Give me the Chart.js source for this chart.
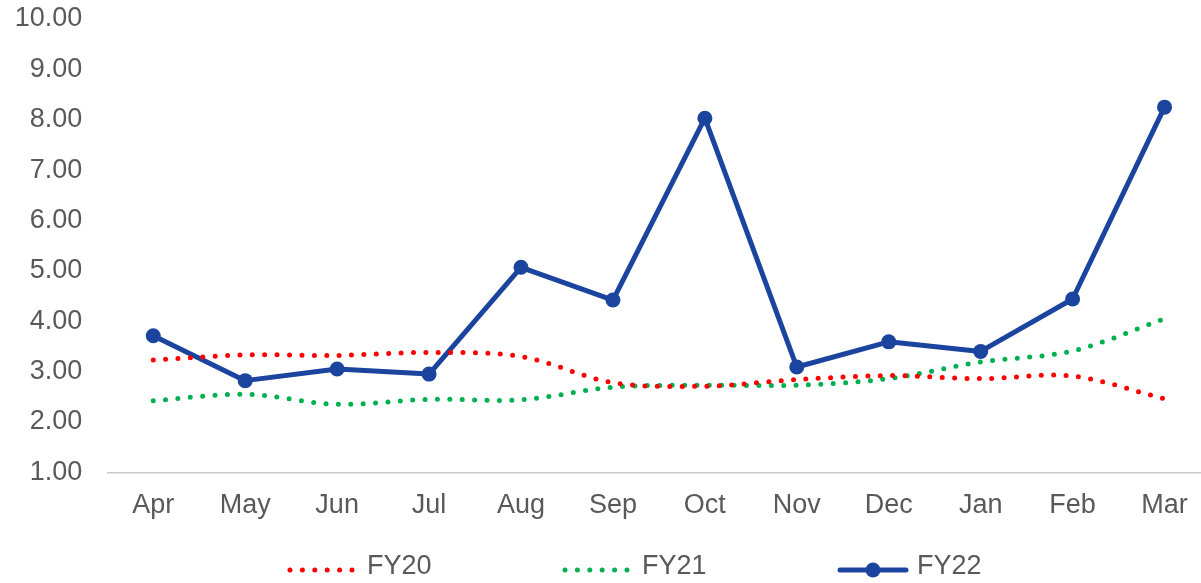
<!DOCTYPE html>
<html>
<head>
<meta charset="utf-8">
<script src="https://cdn.jsdelivr.net/npm/chart.js@4.4.1/dist/chart.umd.min.js"></script>
<style>
  html, body { margin: 0; padding: 0; background: #ffffff; overflow: hidden; }
  #wrap { width: 1218px; height: 583px; }
</style>
</head>
<body>
<div id="wrap"><canvas id="chart" width="1218" height="583"></canvas></div>
<script>
// Monthly values per financial year
const months = ['Apr', 'May', 'Jun', 'Jul', 'Aug', 'Sep', 'Oct', 'Nov', 'Dec', 'Jan', 'Feb', 'Mar'];
const seriesNames = ['FY20', 'FY21', 'FY22'];
const fy20 = [3.23, 3.33, 3.32, 3.38, 3.30, 2.78, 2.71, 2.84, 2.92, 2.86, 2.91, 2.46];
const fy21 = [2.42, 2.55, 2.35, 2.45, 2.44, 2.69, 2.73, 2.73, 2.86, 3.19, 3.41, 4.05];
const fy22 = [3.71, 2.82, 3.05, 2.95, 5.07, 4.42, 8.03, 3.09, 3.59, 3.40, 4.44, 8.25];
const yTicks = [1, 2, 3, 4, 5, 6, 7, 8, 9, 10];

const FONT = '"Liberation Sans", Arial, sans-serif';
const TEXT = '#595959';
const FONT_SIZE = 27;
const DOT_GAP = 12.4;

// Legend drawn along the bottom edge, using each dataset's own style
const bottomLegend = {
  id: 'bottomLegend',
  afterDraw(chart) {
    const ctx = chart.ctx;
    const y = 570;
    const textY = 567;
    const startX = 288;
    const sampleW = 70;
    const textGap = 9;
    const pitch = 275;
    ctx.save();
    ctx.font = FONT_SIZE + 'px ' + FONT;
    ctx.textBaseline = 'middle';
    ctx.textAlign = 'left';
    chart.data.datasets.forEach((ds, i) => {
      const x0 = startX + i * pitch;
      ctx.strokeStyle = ds.borderColor;
      ctx.lineWidth = ds.borderWidth;
      ctx.lineCap = 'round';
      ctx.setLineDash(ds.borderDash || []);
      ctx.beginPath();
      if (ds.borderDash && ds.borderDash.length) {
        ctx.moveTo(x0 + 2, y);
        ctx.lineTo(x0 + 2 + DOT_GAP * 5 + 1, y);
      } else {
        ctx.moveTo(x0 + 2, y);
        ctx.lineTo(x0 + sampleW - 2, y);
      }
      ctx.stroke();
      ctx.setLineDash([]);
      if (ds.pointRadius) {
        ctx.fillStyle = ds.pointBackgroundColor;
        ctx.beginPath();
        ctx.arc(x0 + sampleW / 2, y, ds.pointRadius, 0, Math.PI * 2);
        ctx.fill();
      }
      ctx.fillStyle = TEXT;
      ctx.fillText(ds.label, x0 + sampleW + textGap, textY);
    });
    ctx.restore();
  }
};

const dotted = (label, data, color) => ({
  label,
  data,
  borderColor: color,
  backgroundColor: color,
  borderWidth: 5,
  borderDash: [0, DOT_GAP],
  borderCapStyle: 'round',
  tension: 0.33,
  pointRadius: 0,
  pointHoverRadius: 0,
  fill: false
});

new Chart(document.getElementById('chart'), {
  type: 'line',
  data: {
    labels: months,
    datasets: [
      dotted(seriesNames[0], fy20, '#ff0000'),
      dotted(seriesNames[1], fy21, '#00b050'),
      {
        label: seriesNames[2],
        data: fy22,
        borderColor: '#1b449f',
        backgroundColor: '#1b449f',
        borderWidth: 5,
        borderCapStyle: 'round',
        borderJoinStyle: 'round',
        tension: 0,
        pointRadius: 7.5,
        pointBorderWidth: 0,
        pointBackgroundColor: '#1b449f',
        pointHoverRadius: 7.5,
        fill: false
      }
    ]
  },
  options: {
    responsive: false,
    animation: false,
    events: [],
    layout: { padding: { top: 19, left: 0, right: 0, bottom: 0 } },
    plugins: {
      legend: { display: false },
      tooltip: { enabled: false }
    },
    scales: {
      x: {
        offset: true,
        grid: { display: false, drawTicks: false },
        border: { display: true, color: '#c9c9c9', width: 1.5 },
        ticks: {
          color: TEXT,
          padding: 17,
          maxRotation: 0,
          autoSkip: false,
          font: { family: FONT, size: FONT_SIZE }
        },
        afterFit(scale) { scale.height = 110.7; }
      },
      y: {
        min: yTicks[0],
        max: yTicks[yTicks.length - 1],
        grid: { display: false, drawTicks: false },
        border: { display: false },
        afterBuildTicks(scale) { scale.ticks = yTicks.map(v => ({ value: v })); },
        ticks: {
          color: TEXT,
          padding: 25,
          font: { family: FONT, size: FONT_SIZE },
          callback: v => Number(v).toFixed(2)
        },
        afterFit(scale) {
          scale.width = 107.3;
          scale.paddingTop = 16;
          scale.paddingBottom = 16;
        }
      }
    }
  },
  plugins: [bottomLegend]
});
</script>
</body>
</html>
